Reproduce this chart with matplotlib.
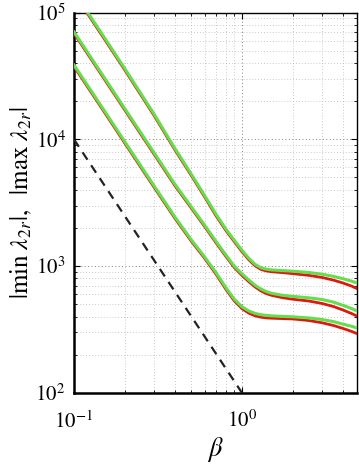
import matplotlib
matplotlib.use("Agg")
import matplotlib.pyplot as plt
from matplotlib.ticker import LogLocator, NullFormatter

# ---- data ----
beta = [0.1, 0.15, 0.2, 0.3, 0.4, 0.5, 0.6, 0.7, 0.8, 0.9, 1.0, 1.1, 1.2,
        1.3, 1.4, 1.5, 1.75, 2.0, 2.5, 3.0, 3.5, 4.0, 4.5, 5.0]

top_green = [146000, 65000, 36400, 15800, 8430, 5300, 3600, 2570, 1970, 1600,
             1335, 1150, 1030, 968, 945, 933, 921, 912, 890, 863, 830, 795,
             760, 725]
top_red = [142000, 63300, 35500, 15400, 8220, 5170, 3510, 2500, 1920, 1560,
           1300, 1120, 1003, 940, 915, 903, 888, 872, 845, 813, 775, 735,
           695, 650]

mid_green = [70500, 31300, 17600, 7830, 4400, 2930, 2100, 1570, 1230, 1000,
             870, 775, 705, 658, 628, 610, 588, 577, 562, 545, 520, 490,
             462, 435]
mid_red = [68700, 30500, 17150, 7630, 4290, 2860, 2050, 1530, 1200, 975,
           845, 752, 683, 636, 606, 588, 563, 548, 530, 507, 480, 450,
           422, 395]

bot_green = [38600, 17200, 9650, 4290, 2430, 1610, 1180, 890, 680, 548,
             478, 442, 423, 413, 408, 405, 401, 398, 390, 379, 365, 348,
             335, 320]
bot_red = [37600, 16750, 9400, 4180, 2370, 1570, 1150, 865, 660, 532,
           462, 425, 405, 395, 390, 388, 385, 383, 372, 357, 340, 322,
           305, 288]

dash_beta = [0.1, 1.0]
dash_lam = [1.0e4, 1.0e2]

xtick_vals = [0.1, 1.0]
xtick_labels = [r"$10^{-1}$", r"$10^{0}$"]
ytick_vals = [1e2, 1e3, 1e4, 1e5]
ytick_labels = [r"$10^{2}$", r"$10^{3}$", r"$10^{4}$", r"$10^{5}$"]

# ---- figure ----
plt.rcParams["mathtext.fontset"] = "stix"
plt.rcParams["font.family"] = ["Liberation Serif", "DejaVu Serif"]

fig = plt.figure(figsize=(3.59, 4.66), dpi=100)
ax = fig.add_axes([0.206, 0.157, 0.788, 0.816])

red_c = "#dd1a12"
green_c = "#66dd4c"

for g, r in [(top_green, top_red), (mid_green, mid_red), (bot_green, bot_red)]:
    ax.plot(beta, r, color=red_c, lw=2.0, solid_joinstyle="round", zorder=3)
    ax.plot(beta, g, color=green_c, lw=2.2, solid_joinstyle="round", zorder=4)

ax.plot(dash_beta, dash_lam, color="#222222", lw=1.6, ls=(0, (4, 3)), zorder=5)

ax.set_xscale("log")
ax.set_yscale("log")
ax.set_xlim(0.1, 4.83)
ax.set_ylim(1e2, 1e5)

ax.set_xticks(xtick_vals)
ax.set_xticklabels(xtick_labels, fontsize=15)
ax.set_yticks(ytick_vals)
ax.set_yticklabels(ytick_labels, fontsize=15)
ax.xaxis.set_minor_locator(LogLocator(base=10, subs=range(2, 10)))
ax.yaxis.set_minor_locator(LogLocator(base=10, subs=range(2, 10)))
ax.xaxis.set_minor_formatter(NullFormatter())
ax.yaxis.set_minor_formatter(NullFormatter())

ax.tick_params(which="both", direction="in", top=True, right=True)
ax.tick_params(which="major", length=4, width=0.8)
ax.tick_params(which="minor", length=2, width=0.6)
ax.tick_params(axis="x", which="major", pad=13)
ax.tick_params(axis="y", which="major", pad=6)

ax.grid(True, which="major", color="0.5", ls=(0, (1, 2.5)), lw=0.7)
ax.grid(True, which="minor", color="0.72", ls=(0, (1, 2.5)), lw=0.6)
ax.set_axisbelow(True)

for side in ["left", "bottom"]:
    ax.spines[side].set_linewidth(1.8)
for side in ["top", "right"]:
    ax.spines[side].set_linewidth(1.0)

ax.set_xlabel(r"$\beta$", fontsize=19, labelpad=2)
ax.set_ylabel(r"$|\min\ \lambda_{2r}|,\ \ |\max\ \lambda_{2r}|$", fontsize=18, labelpad=1)

fig.savefig("out.png", dpi=100)
